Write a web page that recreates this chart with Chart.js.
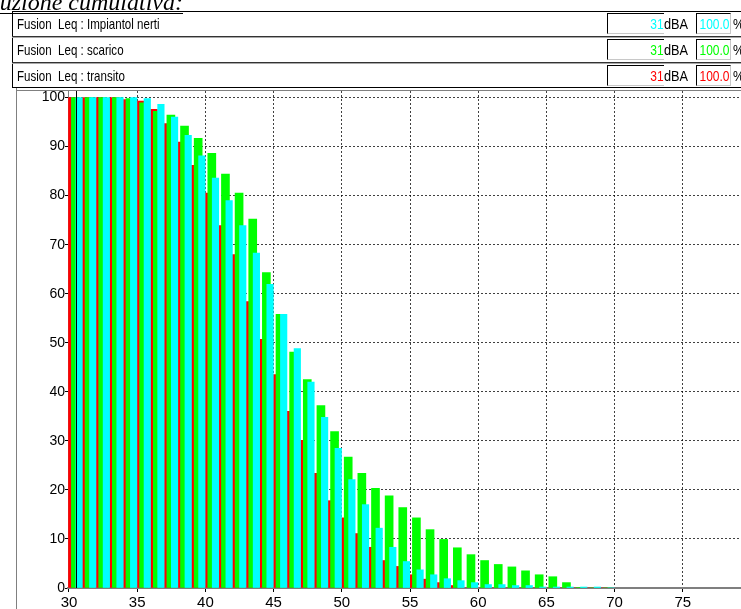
<!DOCTYPE html>
<html><head><meta charset="utf-8">
<script src="https://cdn.jsdelivr.net/npm/chart.js@4.4.1/dist/chart.umd.min.js"></script>
<style>
html,body{margin:0;padding:0;background:#fff;}
body{width:741px;height:609px;overflow:hidden;position:relative;}
#title{position:absolute;top:-10px;right:558px;font:italic 24px 'Liberation Serif','Times New Roman',serif;white-space:nowrap;text-decoration:underline;text-decoration-thickness:1px;text-underline-offset:3px;line-height:24px;color:#000;}
#wrap{position:absolute;left:0;top:0;width:790px;height:609px;}
.ln{position:absolute;}
.row{position:absolute;left:13px;width:760px;height:24px;font-family:'Liberation Sans',Arial,sans-serif;font-size:15px;color:#000;}
.lbl{position:absolute;left:4px;top:0;line-height:24px;white-space:pre;transform:scaleX(0.77);transform-origin:0 50%;}
.vbox{position:absolute;top:1px;height:21px;box-sizing:border-box;border-top:1px solid #000;border-left:1px solid #000;border-bottom:1px solid #c8c8c8;overflow:hidden;white-space:nowrap;}
.vbox span{position:absolute;right:0;top:0;line-height:20px;transform:scaleX(0.8);transform-origin:100% 50%;}
.unit{position:absolute;top:1px;line-height:21px;transform:scaleX(0.85);transform-origin:0 50%;}
</style>
</head><body>
<div id="wrap"><canvas id="c" width="790" height="609"></canvas></div>
<div id="title">Distribuzione cumulativa:</div>
<div id="legend"></div>
<script>
// ---- data ----
const categories = [30,31,32,33,34,35,36,37,38,39,40,41,42,43,44,45,46,47,48,49,50,51,52,53,54,55,56,57,58,59,60,61,62,63,64,65,66,67,68,69];
const transito = [100,100,100,100,99.6,99.3,97.6,94.7,90.9,86.2,80.5,73.9,68.0,58.4,50.7,43.5,36.0,30.1,23.4,17.8,14.3,11.1,8.3,5.6,4.4,2.7,1.8,1.1,0.5,0,0,0,0,0,0,0,0,0,0,0];
const scarico = [100,100,100,100,99.8,98.9,97.2,96.4,94.2,91.7,88.6,84.4,80.5,75.2,64.3,55.8,48.1,42.5,37.2,31.9,26.7,23.4,20.3,18.8,16.4,14.3,11.9,9.9,8.2,6.8,5.6,4.8,4.3,3.5,2.7,2.3,1.1,0.1,0,0];
const impiantoInerti = [100,100,100,100,100,99.8,98.6,96.0,92.3,88.1,83.6,79.0,73.9,68.3,61.9,55.8,48.8,42.0,34.8,28.5,22.1,17.0,12.2,8.3,5.4,3.7,2.7,1.9,1.5,1.1,0.7,0.7,0.5,0.5,0.2,0.2,0.2,0.2,0.2,0];
const xTickValues = [30,35,40,45,50,55,60,65,70,75,80];
const yTickValues = [0,10,20,30,40,50,60,70,80,90,100];
const cursorLevel = 30.5;
const legendNames = ['Fusion  Leq : Impiantol nerti','Fusion  Leq : scarico','Fusion  Leq : transito'];
const legendLevels = ['31','31','31'];
const legendPercents = ['100.0','100.0','100.0'];
const legendColors = ['#00ffff','#00ff00','#ff0000'];

// ---- legend panel (HTML) ----
const lg = document.getElementById('legend');
function addLine(x,y,w,h,c){const d=document.createElement('div');d.className='ln';d.style.cssText=`left:${x}px;top:${y}px;width:${w}px;height:${h}px;background:${c}`;lg.appendChild(d);}
const rowTops=[12,38,64];
rowTops.forEach((t,i)=>{
  const r=document.createElement('div');r.className='row';r.style.top=t+'px';
  r.innerHTML=`<span class="lbl">${legendNames[i]}</span>`+
   `<div class="vbox" style="left:594px;width:57px;color:${legendColors[i]}"><span>${legendLevels[i]}</span></div>`+
   `<span class="unit" style="left:651px">dBA</span>`+
   `<div class="vbox" style="left:683px;width:35px;border-right:1px solid #c8c8c8;color:${legendColors[i]}"><span>${legendPercents[i]}</span></div>`+
   `<span class="unit" style="left:720px">%</span>`;
  lg.appendChild(r);
});
addLine(12,11,760,1,'#000');
addLine(12,11,1,77,'#000');
addLine(12,36,760,1,'#333');addLine(12,37,760,1,'#a8a8a8');
addLine(12,62,760,1,'#333');addLine(12,63,760,1,'#a8a8a8');
addLine(12,87,760,1,'#000');
addLine(16,90,760,1,'#808080');
addLine(16,88,1,521,'#808080');

// ---- chart ----
function series(vals, off){return vals.map((v,i)=>({x:categories[i]+off,y:v}));}
const cursorPlugin={id:'cursor',afterDatasetsDraw(ch){const x=Math.round(ch.scales.x.getPixelForValue(cursorLevel))+0.5;const a=ch.chartArea;const g=ch.ctx;g.save();g.strokeStyle='#000';g.lineWidth=1;g.beginPath();g.moveTo(x,a.top);g.lineTo(x,a.bottom);g.stroke();g.restore();}};
const gridDash='rgba(0,0,0,0.75)';
new Chart(document.getElementById('c'),{
  type:'bar',
  data:{datasets:[
    {label:'transito',data:series(transito,0.22),backgroundColor:'#ff0000',barThickness:7,grouped:false,order:3},
    {label:'scarico',data:series(scarico,0.47),backgroundColor:'#00ff00',barThickness:8,grouped:false,order:2},
    {label:'Impianto Inerti',data:series(impiantoInerti,0.74),backgroundColor:'#00ffff',barThickness:6.5,grouped:false,order:1}
  ]},
  options:{
    responsive:false,animation:false,devicePixelRatio:1,
    layout:{padding:{left:0,top:91,right:38,bottom:0}},
    plugins:{legend:{display:false},tooltip:{enabled:false}},
    scales:{
      x:{type:'linear',min:29.927,max:80.073,offset:false,
        afterBuildTicks(s){s.ticks=xTickValues.map(v=>({value:v}));},
        afterFit(s){s.height=21;},
        grid:{offset:false,color:c=>(c.tick&&(c.tick.value===30||c.tick.value===80))?'rgba(0,0,0,0)':gridDash,lineWidth:1,drawTicks:true,tickLength:4,tickColor:'#000',tickBorderDash:[]},
        border:{display:true,color:'#7f7f7f',width:2,dash:[2,2]},
        ticks:{color:'#000',font:{family:"'Liberation Sans', Arial, sans-serif",size:15},padding:2,maxRotation:0,autoSkip:false,callback:v=>String(v)}
      },
      y:{min:0,max:101.33,
        afterBuildTicks(s){s.ticks=yTickValues.map(v=>({value:v}));},
        afterFit(s){s.width=68;},
        grid:{color:c=>(c.tick&&c.tick.value===0)?'rgba(0,0,0,0)':gridDash,lineWidth:1,drawTicks:true,tickLength:3,tickColor:'#000',tickBorderDash:[]},
        border:{display:true,color:'#7f7f7f',width:1,dash:[2,2]},
        ticks:{color:'#000',font:{family:"'Liberation Sans', Arial, sans-serif",size:14},padding:0,autoSkip:false,callback:v=>String(v)}
      }
    }
  },
  plugins:[cursorPlugin]
});
</script>
</body></html>
